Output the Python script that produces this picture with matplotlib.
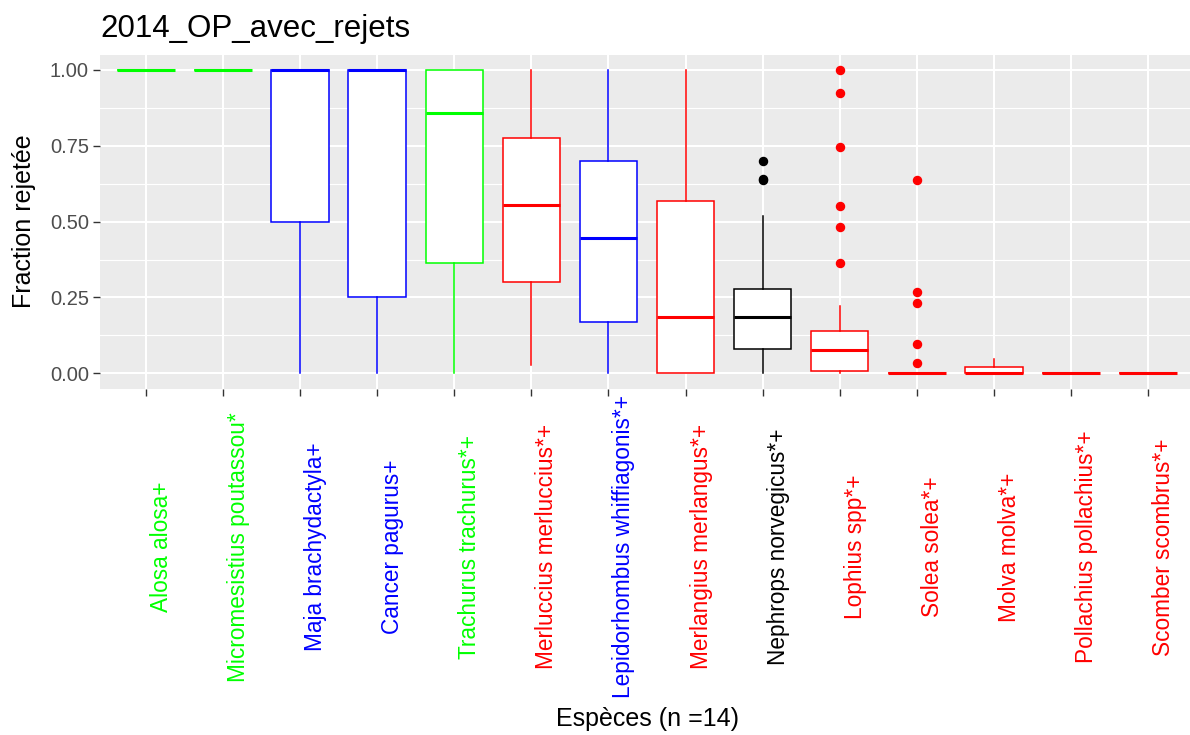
import matplotlib
matplotlib.use("Agg")
import matplotlib.pyplot as plt
import matplotlib.transforms as mtransforms
import numpy as np

# ---------------- data ----------------
species = ["Alosa alosa+", "Micromesistius poutassou*", "Maja brachydactyla+",
           "Cancer pagurus+", "Trachurus trachurus*+", "Merluccius merluccius*+",
           "Lepidorhombus whiffiagonis*+", "Merlangius merlangus*+",
           "Nephrops norvegicus*+", "Lophius spp*+", "Solea solea*+",
           "Molva molva*+", "Pollachius pollachius*+", "Scomber scombrus*+"]
species_colors = ["#00FF00", "#00FF00", "#0000FF", "#0000FF", "#00FF00", "#FF0000",
                  "#0000FF", "#FF0000", "#000000", "#FF0000", "#FF0000",
                  "#FF0000", "#FF0000", "#FF0000"]
whislo = [1.0, 1.0, 0.0, 0.0, 0.0, 0.027, 0.0, 0.0, 0.0, 0.0, 0.0, 0.0, 0.0, 0.0]
q1 = [1.0, 1.0, 0.5, 0.25, 0.365, 0.302, 0.170, 0.0, 0.079, 0.009, 0.0, 0.0, 0.0, 0.0]
med = [1.0, 1.0, 1.0, 1.0, 0.859, 0.556, 0.447, 0.185, 0.185, 0.077, 0.0, 0.0, 0.0, 0.0]
q3 = [1.0, 1.0, 1.0, 1.0, 1.0, 0.775, 0.701, 0.569, 0.278, 0.141, 0.0, 0.022, 0.0, 0.0]
whishi = [1.0, 1.0, 1.0, 1.0, 1.0, 1.0, 1.0, 1.0, 0.52, 0.222, 0.0, 0.046, 0.0, 0.0]
outliers_nephrops = [0.701, 0.642, 0.636]
outliers_lophius = [1.0, 0.923, 0.746, 0.553, 0.483, 0.365]
outliers_solea = [0.638, 0.267, 0.233, 0.096, 0.033]
fliers = [[], [], [], [], [], [], [], [], outliers_nephrops, outliers_lophius,
          outliers_solea, [], [], []]
yticks = [0.0, 0.25, 0.5, 0.75, 1.0]
ytick_labels = ["0.00", "0.25", "0.50", "0.75", "1.00"]
title = "2014_OP_avec_rejets"
xlabel = "Espèces (n =14)"
ylabel = "Fraction rejetée"

# ---------------- figure ----------------
plt.rcParams['font.family'] = ['Liberation Sans', 'DejaVu Sans']
W, H = 1190, 735
fig = plt.figure(figsize=(W / 100, H / 100), dpi=100)
fig.patch.set_facecolor("white")

left_px, right_px, top_px, bot_px = 100, 1194, 54.8, 388.5
ax = fig.add_axes([left_px / W, 1 - bot_px / H, (right_px - left_px) / W, (bot_px - top_px) / H])
ax.set_facecolor("#EBEBEB")
for s in ax.spines.values():
    s.set_visible(False)

n = len(species)
pos = np.arange(1, n + 1)
ax.set_xlim(0.4, n + 0.6)
ax.set_ylim(-0.05, 1.05)

# grid
for y in [0.125, 0.375, 0.625, 0.875]:
    ax.axhline(y, color="white", lw=0.8, zorder=0)
for y in yticks:
    ax.axhline(y, color="white", lw=1.5, zorder=0)
for x in pos:
    ax.axvline(x, color="white", lw=1.5, zorder=0)

stats = []
for i in range(n):
    stats.append(dict(med=med[i], q1=q1[i], q3=q3[i], whislo=whislo[i],
                      whishi=whishi[i], fliers=fliers[i], label=species[i]))

for i in range(n):
    c = species_colors[i]
    ax.bxp([stats[i]], positions=[pos[i]], widths=0.75, patch_artist=True,
           showcaps=False, showfliers=True,
           boxprops=dict(facecolor="white", edgecolor=c, linewidth=1.1),
           whiskerprops=dict(color=c, linewidth=1.1),
           medianprops=dict(color=c, linewidth=2.2, solid_capstyle="butt"),
           flierprops=dict(marker="o", markerfacecolor=c, markeredgecolor=c,
                           markersize=5.8, linestyle="none"),
           manage_ticks=False, zorder=3)

ax.set_yticks(yticks)
ax.set_yticklabels(ytick_labels, fontsize=14.5, color="#4D4D4D")
ax.tick_params(axis="y", length=5, width=1, color="#333333", pad=3)

ax.set_xticks(pos)
ax.set_xticklabels(species, rotation=90, fontsize=16.3)
ax.tick_params(axis="x", length=5, width=1, color="#333333", pad=109)
shift = mtransforms.ScaledTranslation(4 / 100, 0, fig.dpi_scale_trans)
for lab, c in zip(ax.get_xticklabels(), species_colors):
    lab.set_color(c)
    lab.set_va("center")
    lab.set_ha("left")
    lab.set_transform(lab.get_transform() + shift)

ax.set_xlabel(xlabel, fontsize=18)
ax.xaxis.set_label_coords(0.5, (bot_px - 719) / (bot_px - top_px))
ax.xaxis.label.set_va("center")
ax.set_ylabel(ylabel, fontsize=18)
ax.yaxis.set_label_coords((24 - left_px) / (right_px - left_px), 0.5)
ax.yaxis.label.set_va("center")

fig.text(100 / W, 1 - 37 / H, title, fontsize=22.5, ha="left", va="baseline")

fig.savefig("out.png", dpi=100)
